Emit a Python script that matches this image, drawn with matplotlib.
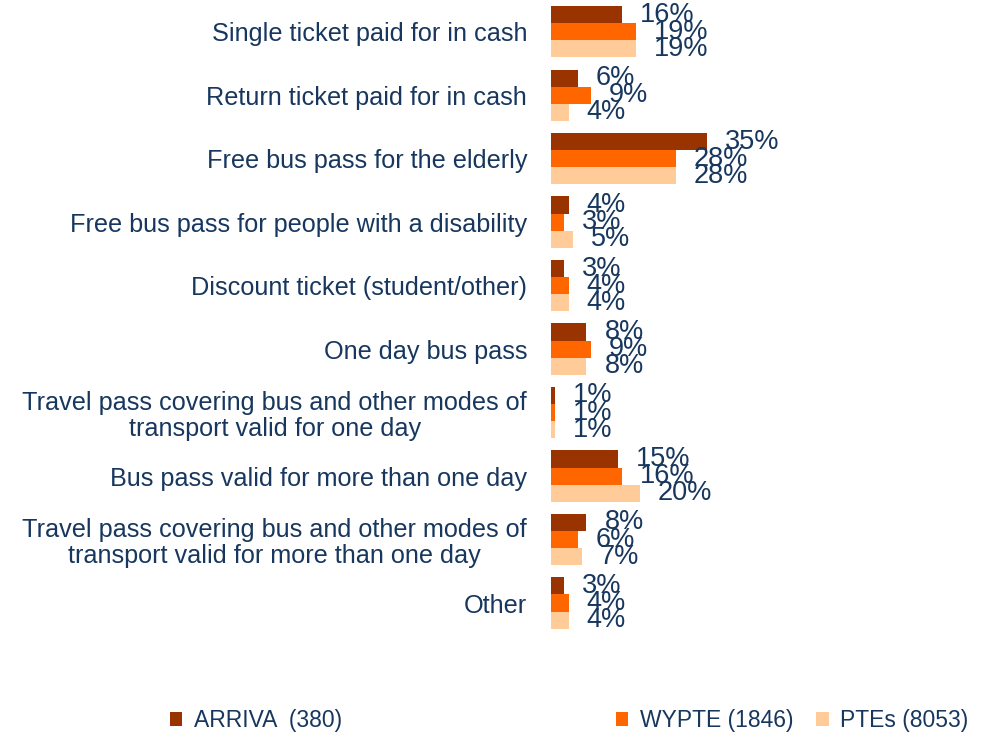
import matplotlib.pyplot as plt
import numpy as np

plt.rcParams['font.family'] = ['Liberation Sans', 'DejaVu Sans']

categories = [
    'Single ticket paid for in cash',
    'Return ticket paid for in cash',
    'Free bus pass for the elderly',
    'Free bus pass for people with a disability',
    'Discount ticket (student/other)',
    'One day bus pass',
    'Travel pass covering bus and other modes of\ntransport valid for one day',
    'Bus pass valid for more than one day',
    'Travel pass covering bus and other modes of\ntransport valid for more than one day',
    'Other',
]
arriva = [16, 6, 35, 4, 3, 8, 1, 15, 8, 3]
wypte = [19, 9, 28, 3, 4, 9, 1, 16, 6, 4]
ptes = [19, 4, 28, 5, 4, 8, 1, 20, 7, 4]
series_names = ['ARRIVA  (380)', 'WYPTE (1846)', 'PTEs (8053)']
colors = ['#993300', '#FF6600', '#FFCC99']
text_color = '#17375E'

fig = plt.figure(figsize=(9.87, 7.39), dpi=100)
ax = fig.add_axes([0.558, 0.141, 0.226, 0.859])

y = np.arange(len(categories))
h = 0.27
for k, (vals, col) in enumerate(zip([arriva, wypte, ptes], colors)):
    pos = y + (k - 1) * h
    ax.barh(pos, vals, height=h, color=col, label=series_names[k])
    for p, v in zip(pos, vals):
        ax.annotate(f'{v}%', (v, p), xytext=(13, 0), textcoords='offset points',
                    va='center', ha='left', fontsize=19.5, color=text_color)

ax.set_ylim(len(categories) - 0.5, -0.5)
ax.set_xlim(0, 50)
ax.set_yticks(y)
ax.set_yticklabels(categories, fontsize=18.2, color=text_color,
                   multialignment='center', linespacing=1.12)
ax.tick_params(axis='y', length=0, pad=17)
ax.set_xticks([])
for s in ax.spines.values():
    s.set_visible(False)

# separate legend entries to match uneven spacing
handles, labels = ax.get_legend_handles_labels()
for hnd, lab, xa in zip(handles, labels, [0.172, 0.624, 0.827]):
    fig.legend([hnd], [lab], loc='center left', bbox_to_anchor=(xa, 0.025),
               frameon=False, fontsize=16.5, handlelength=0.55, handleheight=0.55,
               handletextpad=0.5, borderaxespad=0, borderpad=0,
               labelcolor=text_color)

fig.savefig('out.png', dpi=100)
